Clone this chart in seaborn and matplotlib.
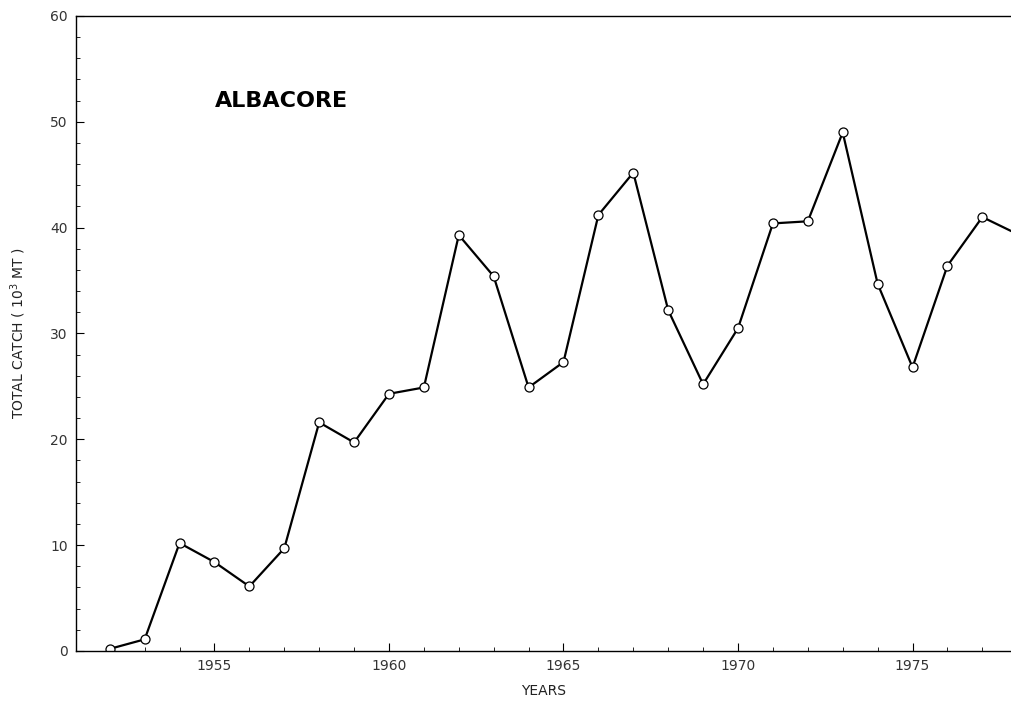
import numpy as np
import pandas as pd
import matplotlib
matplotlib.use('Agg')
import matplotlib.pyplot as plt
import seaborn as sns
from matplotlib.ticker import MultipleLocator

years = [1952, 1953, 1954, 1955, 1956, 1957, 1958, 1959, 1960, 1961, 1962, 1963, 1964,
         1965, 1966, 1967, 1968, 1969, 1970, 1971, 1972, 1973, 1974, 1975, 1976, 1977, 1978]
catch = [0.2, 1.1, 10.2, 8.4, 6.1, 9.7, 21.6, 19.7, 24.3, 24.9, 39.3, 35.4, 24.9,
         27.3, 41.2, 45.2, 32.2, 25.2, 30.5, 40.4, 40.6, 49.0, 34.7, 26.8, 36.4, 41.0, 39.4]
x_ticks = [1955, 1960, 1965, 1970, 1975]
y_ticks = [0, 10, 20, 30, 40, 50, 60]

df = pd.DataFrame({'year': years, 'catch': catch})

sns.set_theme(style='ticks')
plt.rcParams['font.family'] = ['DejaVu Sans']

fig = plt.figure(figsize=(10.12, 7.04), dpi=100)
ax = fig.add_axes([0.075, 0.0753, 0.925, 0.902])

sns.lineplot(data=df, x='year', y='catch', ax=ax, color='black', lw=1.6,
             marker='o', markersize=6.5, markerfacecolor='white',
             markeredgecolor='black', markeredgewidth=0.9, clip_on=True)

ax.set_xlim(1951.03, 1977.85)
ax.set_ylim(0, 60)
ax.set_xticks(x_ticks)
ax.set_yticks(y_ticks)
ax.xaxis.set_minor_locator(MultipleLocator(1))
ax.yaxis.set_minor_locator(MultipleLocator(2))
ax.tick_params(axis='both', which='major', direction='in', length=6, width=0.8,
               labelsize=10, colors='black', labelcolor='#333333', pad=6,
               bottom=True, left=True, top=False, right=False)
ax.tick_params(axis='both', which='minor', direction='in', length=3, width=0.6,
               colors='black', bottom=True, left=True, top=False, right=False)

for side in ['left', 'bottom', 'top']:
    ax.spines[side].set_visible(True)
    ax.spines[side].set_color('black')
    ax.spines[side].set_linewidth(1.0)
ax.spines['right'].set_visible(False)

ax.set_xlabel('YEARS', fontsize=10, color='#222222', labelpad=8)
ax.set_ylabel('TOTAL CATCH ( 10$^3$ MT )', fontsize=10, color='#222222', labelpad=16)

ax.text(1955.0, 52.0, 'ALBACORE', fontsize=16, fontweight='bold', color='black',
        ha='left', va='center')

fig.savefig('out.png', dpi=100)
